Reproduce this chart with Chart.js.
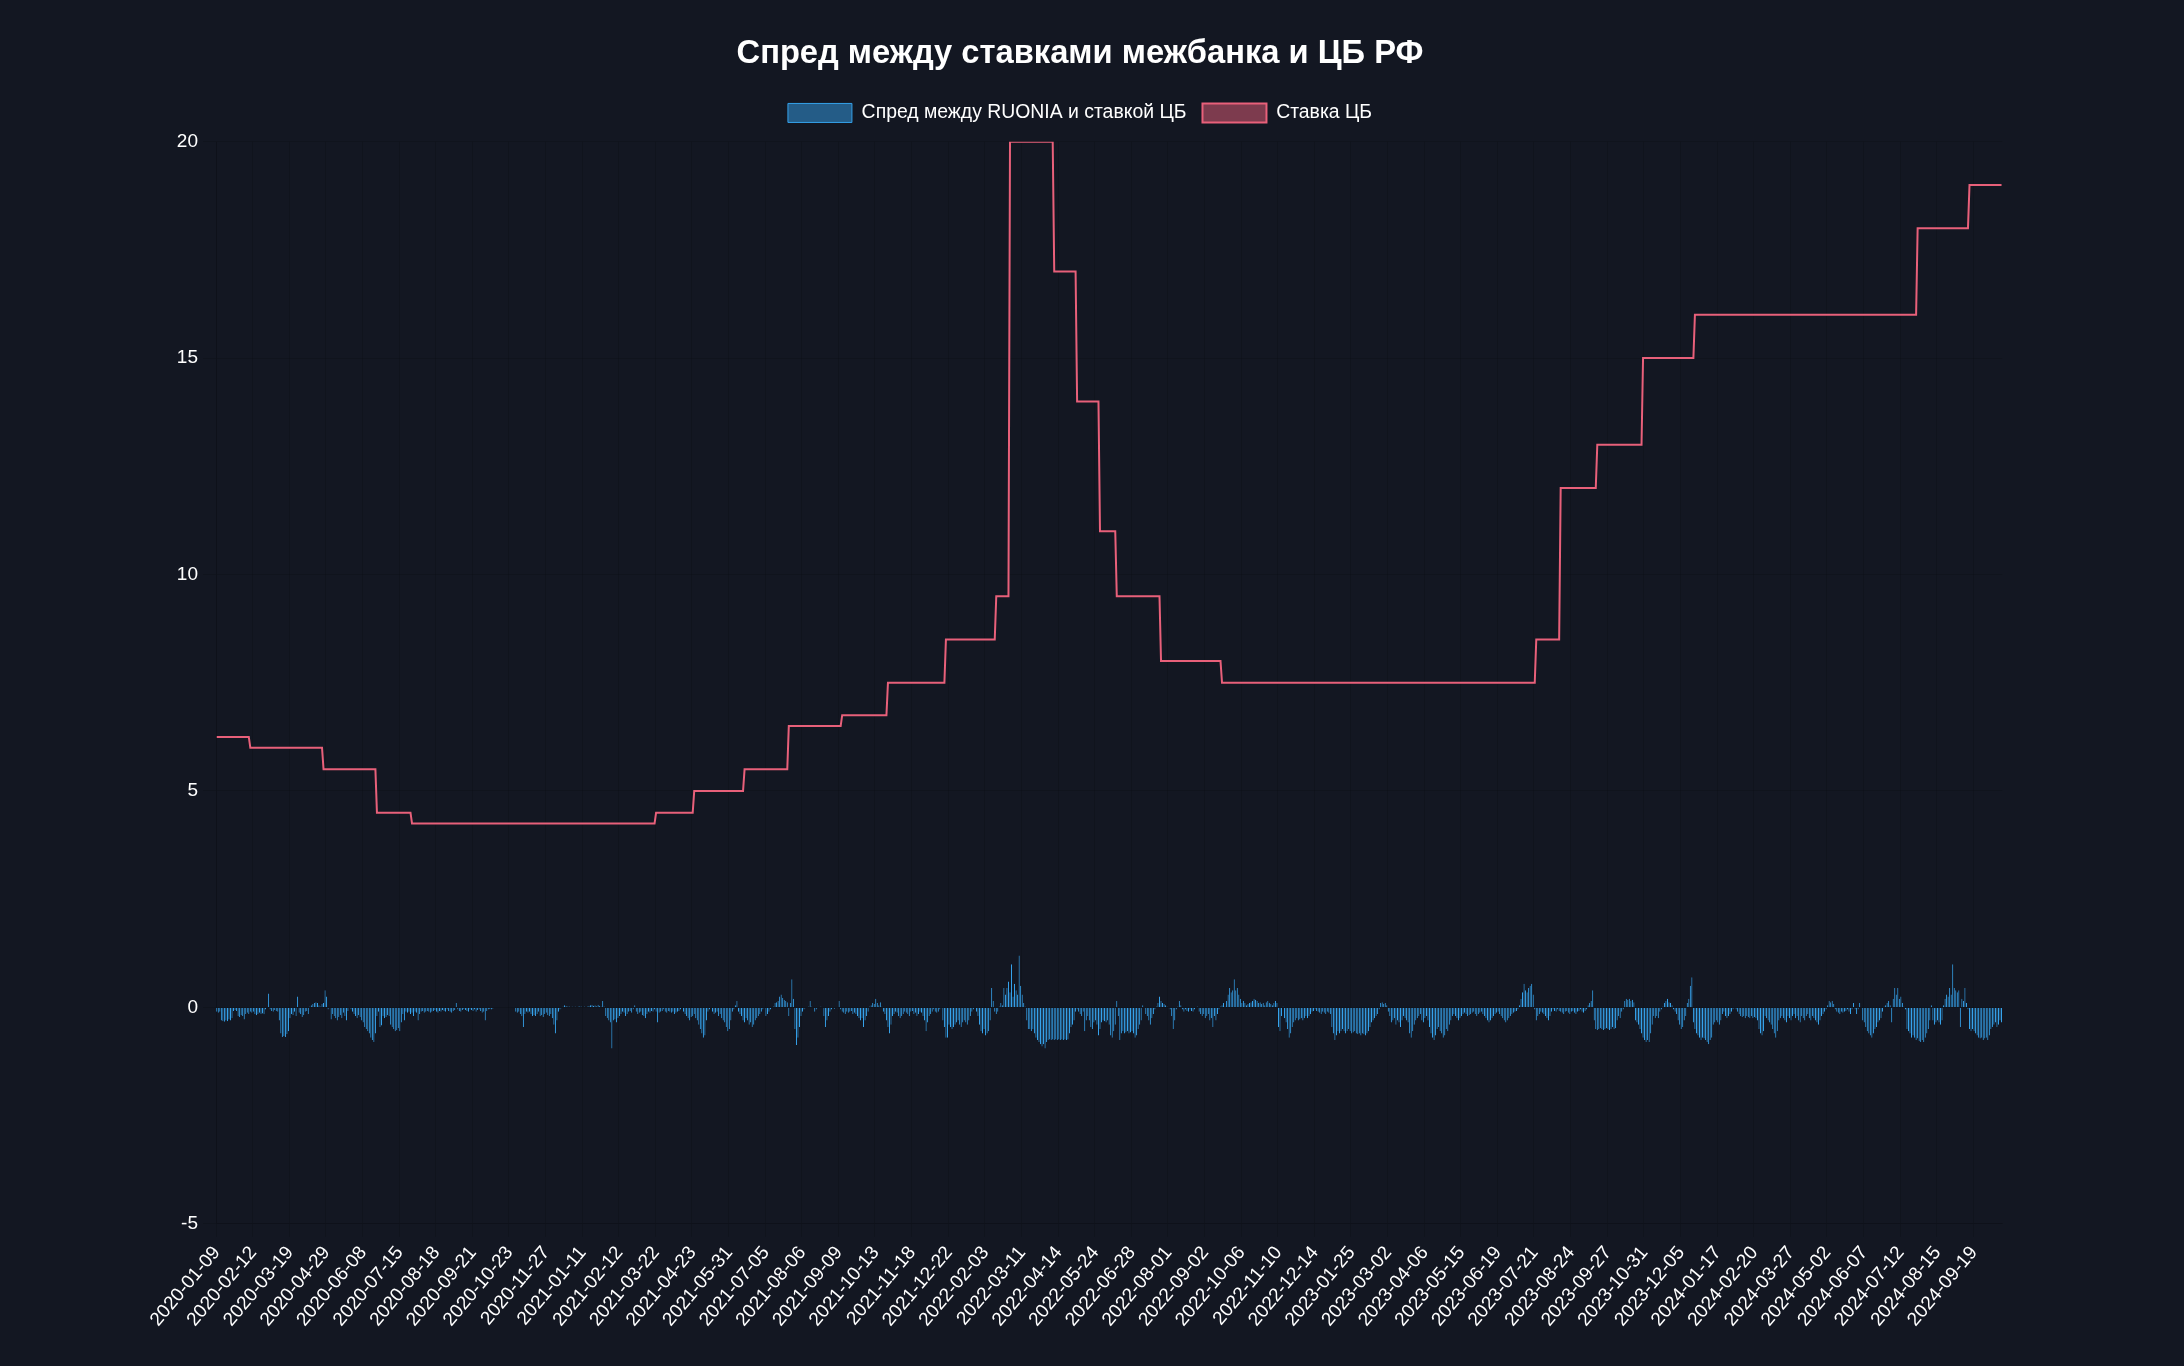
<!DOCTYPE html>
<html lang="ru">
<head>
<meta charset="utf-8">
<title>Спред между ставками межбанка и ЦБ РФ</title>
<script src="https://cdn.jsdelivr.net/npm/chart.js@4.4.1/dist/chart.umd.min.js"></script>
<style>
    html, body { margin: 0; padding: 0; background: #131722; }
    #wrap { position: absolute; left: 136px; top: 18px; width: 1888px; height: 1318px; }
</style>
</head>
<body>
<div id="wrap"><canvas id="chart"></canvas></div>
<script>
// --- 1. Data (one bar / point per trading day, tick label every 24 days) ---
const tickLabels = [
    '2020-01-09','2020-02-12','2020-03-19','2020-04-29','2020-06-08','2020-07-15','2020-08-18','2020-09-21','2020-10-23','2020-11-27',
    '2021-01-11','2021-02-12','2021-03-22','2021-04-23','2021-05-31','2021-07-05','2021-08-06','2021-09-09','2021-10-13','2021-11-18','2021-12-22',
    '2022-02-03','2022-03-11','2022-04-14','2022-05-24','2022-06-28','2022-08-01','2022-09-02','2022-10-06','2022-11-10','2022-12-14',
    '2023-01-25','2023-03-02','2023-04-06','2023-05-15','2023-06-19','2023-07-21','2023-08-24','2023-09-27','2023-10-31','2023-12-05',
    '2024-01-17','2024-02-20','2024-03-27','2024-05-02','2024-06-07','2024-07-12','2024-08-15','2024-09-19'
];
const TICK_EVERY = 24;

// key rate: day index where a new rate starts, and the rate itself
const rateStartIdx = [0, 22, 70, 105, 128, 288, 313, 346, 375, 410, 440, 478, 511, 520, 549, 564, 579, 590, 619, 659, 865, 881, 905, 935, 969, 1115, 1149];
const rateValues   = [6.25, 6, 5.5, 4.5, 4.25, 4.5, 5, 5.5, 6.5, 6.75, 7.5, 8.5, 9.5, 20, 17, 14, 11, 9.5, 8, 7.5, 8.5, 12, 13, 15, 16, 18, 19];

// spread RUONIA - key rate, p.p.
const spreadA = [
    -0.1,-0.12,-0.1,-0.3,-0.32,-0.33,-0.3,-0.32,-0.28,-0.3,-0.25,-0.08,-0.06,-0.08,-0.2,-0.22,-0.18,-0.2,-0.28,-0.15,-0.12,-0.15,-0.1,-0.12,
    -0.1,-0.15,-0.18,-0.15,-0.12,-0.15,-0.14,-0.16,-0.05,0,0.32,-0.05,-0.08,-0.1,-0.06,-0.08,-0.1,-0.3,-0.6,-0.68,-0.66,-0.68,-0.62,-0.55,
    -0.25,-0.15,-0.18,-0.1,-0.2,0.25,-0.12,-0.15,-0.22,-0.18,-0.1,-0.08,-0.15,0.02,0.05,0.08,0.1,0.12,0.1,0.05,0.02,0.08,0.1,0.4,
    0.25,-0.05,-0.02,-0.28,-0.15,-0.2,-0.25,-0.3,-0.22,-0.18,-0.25,-0.12,-0.2,-0.3,-0.08,0,-0.05,-0.1,-0.15,-0.2,-0.25,-0.18,-0.22,-0.3,
    -0.35,-0.45,-0.5,-0.55,-0.6,-0.7,-0.75,-0.8,-0.6,-0.2,-0.1,-0.45,-0.42,-0.2,-0.25,-0.22,-0.18,-0.2,-0.4,-0.45,-0.5,-0.55,-0.52,-0.48,
    -0.55,-0.35,-0.15,-0.3,-0.1,-0.12,-0.1,-0.15,-0.12,-0.2,-0.1,-0.12,-0.3,-0.15,-0.1,-0.08,-0.12,-0.1,-0.08,-0.1,-0.12,-0.1,-0.08,-0.06,
    -0.1,-0.12,-0.08,-0.1,-0.06,-0.08,-0.1,-0.05,-0.08,-0.1,-0.12,-0.08,-0.06,0.1,-0.05,-0.08,-0.1,-0.06,-0.04,-0.06,-0.08,-0.1,-0.05,-0.06,
    -0.08,-0.05,-0.1,-0.06,-0.05,-0.08,-0.12,-0.1,-0.3,-0.08,-0.05,-0.04,-0.05,-0.03,-0.01,-0.01,0,-0.01,0,-0.01,-0.01,0,-0.01,0,
    -0.01,0,-0.01,-0.01,-0.1,-0.12,-0.1,-0.15,-0.2,-0.45,-0.15,-0.1,-0.12,-0.1,-0.15,-0.2,-0.18,-0.2,-0.15,-0.1,-0.2,-0.18,-0.22,-0.15,
    -0.12,-0.18,-0.2,-0.15,-0.25,-0.4,-0.6,-0.3,-0.1,-0.05,-0.02,0.02,0.05,0.04,0.02,0.03,0.01,0.02,0.01,0.02,0.01,0.02,0.03,0.02
];
const spreadB = [
    0.01,0.02,0.01,0.02,0.04,0.05,0.06,0.04,0.05,0.03,0.06,0.04,0.02,0.15,0.02,-0.2,-0.25,-0.3,-0.35,-0.95,-0.3,-0.28,-0.35,-0.25,
    -0.2,-0.15,-0.1,-0.12,-0.2,-0.15,-0.1,-0.08,-0.12,-0.05,0.05,-0.1,-0.15,-0.12,-0.1,-0.18,-0.2,-0.25,-0.15,-0.1,-0.12,-0.08,-0.1,-0.05,
    -0.1,-0.35,-0.12,-0.1,-0.08,-0.05,-0.1,-0.12,-0.08,-0.1,-0.12,-0.1,-0.15,-0.12,-0.1,-0.08,-0.05,-0.02,-0.1,-0.15,-0.2,-0.25,-0.3,-0.22,
    -0.2,-0.15,-0.25,-0.3,-0.4,-0.5,-0.6,-0.7,-0.65,-0.3,-0.1,-0.05,-0.02,-0.1,-0.15,-0.12,-0.1,-0.2,-0.15,-0.25,-0.3,-0.35,-0.45,-0.55,
    -0.5,-0.3,-0.1,-0.05,0.05,0.15,-0.1,-0.15,-0.2,-0.3,-0.35,-0.25,-0.3,-0.4,-0.35,-0.45,-0.4,-0.3,-0.25,-0.2,-0.15,-0.1,-0.05,-0.02,
    -0.2,-0.15,-0.1,-0.05,-0.02,0.02,0.1,0.12,0.15,0.25,0.3,0.22,0.18,0.15,0.12,-0.2,0.1,0.65,0.2,-0.5,-0.87,-0.7,-0.45,-0.2,
    -0.1,-0.05,-0.02,0,0.02,0.15,0.02,-0.01,-0.1,-0.05,-0.02,-0.01,0.02,-0.01,-0.2,-0.45,-0.3,-0.2,-0.1,-0.05,-0.02,-0.03,-0.01,-0.02,
    0.15,-0.05,-0.1,-0.12,-0.15,-0.1,-0.12,-0.1,-0.08,-0.15,-0.12,-0.15,-0.2,-0.25,-0.3,-0.25,-0.45,-0.3,-0.2,-0.1,0.02,0.05,0.1,0.08,
    0.2,0.1,0.05,0.12,0.02,-0.1,-0.15,-0.3,-0.45,-0.6,-0.4,-0.2,-0.15,-0.1,-0.12,-0.2,-0.25,-0.2,-0.15,-0.1,-0.12,-0.15,-0.2,-0.1,
    -0.08,-0.15,-0.12,-0.2,-0.15,-0.1,-0.12,-0.2,-0.3,-0.55,-0.35,-0.2,-0.15,-0.1,-0.05,-0.1,-0.12,-0.1,-0.05,-0.02,-0.3,-0.45,-0.7,-0.7
];
const spreadC = [
    -0.4,-0.45,-0.5,-0.45,-0.4,-0.35,-0.3,-0.4,-0.45,-0.35,-0.3,-0.35,-0.4,-0.3,-0.2,-0.1,-0.05,-0.02,-0.1,-0.2,-0.4,-0.55,-0.6,-0.5,
    -0.65,-0.6,-0.55,-0.3,0.45,0.15,-0.1,-0.15,-0.1,0.02,0.1,0.05,0.45,0.3,0.45,0.6,0.35,1.0,0.25,0.55,0.4,0.3,1.2,0.5,
    0.3,0.1,0.02,-0.3,-0.5,-0.5,-0.55,-0.5,-0.6,-0.7,-0.75,-0.8,-0.85,-0.9,-0.85,-0.95,-0.8,-0.75,-0.74,-0.75,-0.74,-0.75,-0.74,-0.75,
    -0.74,-0.75,-0.74,-0.75,-0.74,-0.75,-0.74,-0.6,-0.45,-0.4,-0.3,-0.1,-0.05,-0.1,-0.15,-0.2,-0.1,-0.55,-0.3,-0.2,-0.3,-0.45,-0.5,-0.35,
    -0.3,-0.4,-0.65,-0.5,-0.35,-0.3,-0.32,-0.35,-0.3,-0.4,-0.65,-0.7,-0.55,-0.4,0.15,-0.2,-0.75,-0.6,-0.55,-0.6,-0.58,-0.55,-0.6,-0.58,
    -0.55,-0.6,-0.7,-0.65,-0.5,-0.4,-0.3,0.05,-0.02,-0.15,-0.2,-0.3,-0.4,-0.25,-0.15,-0.05,0.02,0.1,0.25,0.15,0.1,0.08,0.05,0.02,
    -0.02,-0.05,-0.2,-0.5,-0.3,-0.05,0.02,0.15,0.05,-0.05,-0.1,-0.05,-0.08,-0.1,-0.05,-0.08,-0.1,-0.05,-0.02,0.02,-0.1,-0.15,-0.2,-0.15,
    -0.25,-0.2,-0.15,-0.3,-0.25,-0.45,-0.2,-0.3,-0.15,-0.05,0.02,0.05,0.1,0.02,0.15,0.3,0.45,0.35,0.4,0.65,0.4,0.45,0.3,0.2,
    0.1,0.15,0.1,0.05,0.08,0.1,0.12,0.15,0.2,0.18,0.15,0.1,0.12,0.08,0.1,0.05,0.12,0.15,0.1,0.08,0.05,0.1,0.15,0.1,
    -0.45,-0.55,-0.2,0.02,-0.25,-0.35,-0.5,-0.7,-0.6,-0.45,-0.35,-0.3,-0.25,-0.3,-0.28,-0.25,-0.3,-0.25,-0.2,-0.25,-0.2,-0.15,-0.1,-0.08
];
const spreadD = [
    -0.05,-0.08,-0.1,-0.12,-0.15,-0.1,-0.12,-0.15,-0.1,-0.12,-0.15,-0.45,-0.6,-0.75,-0.65,-0.55,-0.6,-0.55,-0.5,-0.55,-0.6,-0.55,-0.5,-0.55,
    -0.6,-0.58,-0.55,-0.6,-0.62,-0.6,-0.65,-0.6,-0.62,-0.65,-0.6,-0.55,-0.45,-0.35,-0.3,-0.25,-0.2,-0.15,-0.05,0.1,0.12,0.08,0.1,0.05,
    -0.1,-0.2,-0.35,-0.3,-0.25,-0.4,-0.3,-0.35,-0.45,-0.3,-0.2,-0.25,-0.3,-0.35,-0.6,-0.7,-0.55,-0.4,-0.3,-0.25,-0.2,-0.15,-0.3,-0.35,
    -0.25,-0.2,-0.3,-0.45,-0.6,-0.7,-0.75,-0.65,-0.5,-0.45,-0.55,-0.6,-0.7,-0.65,-0.5,-0.55,-0.4,-0.3,-0.2,-0.15,-0.2,-0.25,-0.3,-0.25,
    -0.2,-0.15,-0.12,-0.15,-0.2,-0.18,-0.15,-0.12,-0.1,-0.15,-0.2,-0.15,-0.12,-0.1,-0.15,-0.2,-0.25,-0.3,-0.35,-0.3,-0.25,-0.2,-0.15,-0.12,
    -0.1,-0.15,-0.2,-0.25,-0.3,-0.35,-0.3,-0.25,-0.2,-0.15,-0.12,-0.1,-0.08,-0.05,0.05,0.2,0.35,0.55,0.4,0.35,0.45,0.5,0.55,0.3,
    -0.05,-0.3,-0.2,-0.15,-0.1,-0.12,-0.15,-0.2,-0.25,-0.3,-0.2,-0.1,-0.05,-0.08,-0.1,-0.05,-0.08,-0.1,-0.12,-0.15,-0.1,-0.08,-0.12,-0.15,
    -0.1,-0.08,-0.12,-0.15,-0.1,-0.08,-0.05,-0.1,-0.12,-0.08,-0.05,0.05,0.1,0.15,0.4,-0.3,-0.5,-0.52,-0.5,-0.48,-0.5,-0.52,-0.5,-0.48,
    -0.5,-0.52,-0.5,-0.45,-0.5,-0.48,-0.3,-0.2,-0.25,-0.1,-0.05,0.15,0.2,0.18,0.2,0.15,0.18,0.12,-0.3,-0.35,-0.4,-0.5,-0.6,-0.7,
    -0.75,-0.8,-0.75,-0.8,-0.6,-0.4,-0.2,-0.25,-0.2,-0.25,-0.1,-0.05,0.02,0.1,0.15,0.2,0.12,0.1,0.05,-0.05,-0.1,-0.15,-0.3,-0.4
];
const spreadE = [
    -0.5,-0.45,-0.3,-0.2,0.1,0.2,0.5,0.7,-0.35,-0.5,-0.6,-0.65,-0.7,-0.75,-0.7,-0.72,-0.75,-0.8,-0.85,-0.75,-0.7,-0.4,-0.35,-0.3,
    -0.35,-0.4,-0.3,-0.15,-0.1,-0.2,-0.25,-0.2,-0.15,-0.1,-0.05,-0.02,-0.05,-0.1,-0.15,-0.2,-0.22,-0.2,-0.25,-0.2,-0.22,-0.25,-0.2,-0.25,
    -0.22,-0.25,-0.3,-0.5,-0.6,-0.65,-0.55,-0.2,-0.25,-0.3,-0.35,-0.4,-0.5,-0.6,-0.7,-0.55,-0.3,-0.25,-0.2,-0.25,-0.3,-0.35,-0.2,-0.25,
    -0.3,-0.2,-0.15,-0.25,-0.2,-0.3,-0.35,-0.2,-0.25,-0.3,-0.2,-0.15,-0.25,-0.3,-0.2,-0.25,-0.3,-0.35,-0.4,-0.3,-0.2,-0.15,-0.1,-0.05,
    0.05,0.15,0.12,0.15,0.08,-0.05,-0.1,-0.12,-0.15,-0.1,-0.12,-0.1,-0.08,-0.05,-0.1,-0.15,-0.05,0.1,-0.05,-0.15,-0.05,0.1,-0.02,-0.3,
    -0.35,-0.45,-0.55,-0.6,-0.65,-0.7,-0.6,-0.5,-0.45,-0.35,-0.3,-0.25,-0.1,0.02,0.05,0.1,0.15,0.05,-0.35,0.2,0.45,0.3,0.45,0.2,
    0.25,0.1,0.02,-0.05,-0.5,-0.55,-0.6,-0.7,-0.65,-0.7,-0.75,-0.72,-0.78,-0.8,-0.75,-0.8,-0.7,-0.6,-0.5,-0.3,0.05,-0.3,-0.4,-0.35,
    -0.3,-0.35,-0.4,-0.3,0.05,0.2,0.3,0.25,0.45,0.3,1.0,0.45,0.4,0.35,0.4,-0.45,0.2,0.15,0.45,0.1,-0.05,-0.5,-0.55,-0.5,
    -0.55,-0.6,-0.65,-0.7,-0.72,-0.7,-0.75,-0.72,-0.7,-0.75,-0.65,-0.5,-0.45,-0.4,-0.35,-0.45,-0.4,-0.3,-0.35
];

const spread = [].concat(spreadA, spreadB, spreadC, spreadD, spreadE);
const N = spread.length;

// --- 2. Build the series the library needs ---
const labels = [];
for (let i = 0; i < N; i++) {
    labels.push(i % TICK_EVERY === 0 ? (tickLabels[i / TICK_EVERY] || '') : '');
}

const keyRate = [];
for (let k = 0; k < rateStartIdx.length; k++) {
    const end = k + 1 < rateStartIdx.length ? rateStartIdx[k + 1] : N;
    for (let i = rateStartIdx[k]; i < end; i++) keyRate.push(rateValues[k]);
}

// --- 3. Chart ---
const FONT = "'Liberation Sans', Arial, Helvetica, sans-serif";
const TEXT = '#ffffff';
const GRID = 'rgba(0, 0, 0, 0.12)';

// a bit more room between the legend and the plot
const legendGap = {
    id: 'legendGap',
    beforeInit(chart) {
        const fit = chart.legend.fit;
        chart.legend.fit = function () {
            fit.call(this);
            this.height += 9;
        };
    }
};

const ctx = document.getElementById('chart').getContext('2d');
new Chart(ctx, {
    data: {
        labels: labels,
        datasets: [
            {
                type: 'line',
                label: 'Ставка ЦБ',
                data: keyRate,
                borderColor: 'rgb(232, 96, 122)',
                backgroundColor: 'rgba(232, 96, 122, 0.5)',
                borderWidth: 2,
                pointRadius: 0,
                tension: 0,
                order: 0
            },
            {
                type: 'bar',
                label: 'Спред между RUONIA и ставкой ЦБ',
                data: spread,
                backgroundColor: 'rgba(54, 162, 235, 0.5)',
                borderColor: 'rgb(54, 162, 235)',
                borderWidth: 1,
                order: 1
            }
        ]
    },
    options: {
        responsive: true,
        maintainAspectRatio: false,
        animation: false,
        plugins: {
            title: {
                display: true,
                text: 'Спред между ставками межбанка и ЦБ РФ',
                color: TEXT,
                font: { family: FONT, size: 32.7, weight: 'bold' },
                padding: { top: 16, bottom: 14 }
            },
            legend: {
                // bars first in the legend, like the reference
                reverse: true,
                labels: {
                    color: TEXT,
                    font: { family: FONT, size: 19.4 },
                    boxWidth: 64,
                    boxHeight: 19,
                    padding: 16
                }
            },
            tooltip: { enabled: false }
        },
        scales: {
            x: {
                ticks: {
                    color: TEXT,
                    font: { family: FONT, size: 19 },
                    autoSkip: false,
                    minRotation: 50,
                    maxRotation: 50,
                    padding: 5
                },
                grid: {
                    color: c => (c.index % TICK_EVERY === 0 ? GRID : 'transparent'),
                    tickLength: 13
                },
                border: { color: GRID }
            },
            y: {
                min: -5,
                max: 20,
                afterFit: scale => { scale.width = 80; },
                ticks: {
                    stepSize: 5,
                    color: TEXT,
                    font: { family: FONT, size: 19 },
                    padding: 5
                },
                grid: { color: GRID, tickLength: 13 },
                border: { color: GRID }
            }
        }
    },
    plugins: [legendGap]
});
</script>
</body>
</html>
